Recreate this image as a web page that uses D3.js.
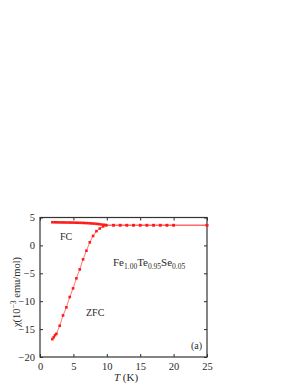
<!DOCTYPE html>
<html><head><meta charset="utf-8">
<script src="https://cdn.jsdelivr.net/npm/d3@7"></script>
<style>body{margin:0;background:#fff}svg{display:block}
svg text{font-family:"Liberation Serif","DejaVu Serif","Times New Roman",serif;}</style>
</head><body><svg id="c" width="300" height="388"></svg>
<script>
const xTicks = [0, 5, 10, 15, 20, 25];
const yTicks = [5, 0, -5, -10, -15, -20];
const fcT = [1.85,2.2,2.55,2.9,3.25,3.6,3.95,4.3,4.65,5.0,5.35,5.7,6.05,6.4,6.75,7.1,7.45,7.8,8.15,8.5,8.85,9.2,9.55,9.9,11,12,13,14,15,16,17,18,19,20,25];
const fcChi = [4.15,4.14,4.13,4.12,4.12,4.11,4.10,4.10,4.09,4.08,4.07,4.06,4.05,4.03,4.01,3.99,3.96,3.93,3.90,3.86,3.81,3.75,3.70,3.65,3.62,3.62,3.62,3.62,3.62,3.62,3.62,3.62,3.62,3.62,3.62];
const zfcT = [1.85,2.05,2.25,2.45,2.95,3.45,3.95,4.45,4.95,5.45,5.95,6.45,6.95,7.45,7.95,8.45,8.95,9.45,9.9];
const zfcChi = [-16.8,-16.45,-16.1,-15.85,-14.4,-12.55,-11.1,-9.25,-7.7,-5.9,-4.3,-2.5,-0.95,0.55,1.7,2.55,3.03,3.4,3.6];
const labels = {fc: "FC", zfc: "ZFC", panel: "(a)"};

const svg = d3.select("#c");
const L = 40, R = 207, T = 217.5, B = 357;
const x = d3.scaleLinear().domain([0, 25]).range([L, R]);
const y = d3.scaleLinear().domain([-20, 5]).range([B, T]);
const red = "#ff1a1a";
const ink = "#2a2a2a";

const xb = svg.append("g").attr("transform", `translate(0,${B})`)
  .call(d3.axisBottom(x).tickValues(xTicks).tickSizeInner(-3).tickSizeOuter(0).tickPadding(6));
const xt = svg.append("g").attr("transform", `translate(0,${T})`)
  .call(d3.axisTop(x).tickValues(xTicks).tickSizeInner(-3).tickSizeOuter(0).tickFormat(""));
const yl = svg.append("g").attr("transform", `translate(${L},0)`)
  .call(d3.axisLeft(y).tickValues(yTicks).tickSizeInner(-3).tickSizeOuter(0).tickPadding(5));
const yr = svg.append("g").attr("transform", `translate(${R},0)`)
  .call(d3.axisRight(y).tickValues(yTicks).tickSizeInner(-3).tickSizeOuter(0).tickFormat(""));
[xb, xt, yl, yr].forEach(g => {
  g.attr("font-family", null);
  g.select(".domain").remove();
  g.selectAll("line").attr("stroke", ink).attr("stroke-width", 1);
  g.selectAll("text").attr("font-size", 10.5).attr("fill", ink);
});
svg.append("rect").attr("x", L).attr("y", T).attr("width", R - L).attr("height", B - T)
  .attr("fill", "none").attr("stroke", "#333").attr("stroke-width", 1.2);

const line = d3.line().x(d => x(d[0])).y(d => y(d[1]));
const fc = fcT.map((t, i) => [t, fcChi[i]]);
const zfc = zfcT.map((t, i) => [t, zfcChi[i]]).concat(fc.slice(24));
[fc, zfc].forEach(data => {
  svg.append("path").datum(data).attr("d", line).attr("fill", "none")
    .attr("stroke", red).attr("stroke-opacity", 0.6).attr("stroke-width", 1);
  svg.append("g").selectAll("rect").data(data).join("rect")
    .attr("x", d => x(d[0]) - 1.3).attr("y", d => y(d[1]) - 1.3)
    .attr("width", 2.6).attr("height", 2.6).attr("fill", red);
});

const txt = (s, xx, yy, size, anchor) => svg.append("text").attr("x", xx).attr("y", yy)
  .attr("font-size", size).attr("fill", ink)
  .attr("text-anchor", anchor || "start").text(s);
txt(labels.fc, 60, 240, 10);
txt(labels.zfc, 86, 316, 10);
txt(labels.panel, 191, 349, 10);

const f = svg.append("text").attr("x", 113).attr("y", 266)
  .attr("font-size", 11).attr("fill", ink);
[["Fe", 0], ["1.00", 1], ["Te", 0], ["0.95", 1], ["Se", 0], ["0.05", 1]].forEach(([s, sub], i) => {
  const ts = f.append("tspan").text(s);
  if (sub) ts.attr("font-size", 7.5).attr("dy", 2.5);
  else if (i > 0) ts.attr("dy", -2.5);
});

const xl = svg.append("text").attr("x", 126).attr("y", 381).attr("text-anchor", "middle")
  .attr("font-size", 11).attr("fill", ink);
xl.append("tspan").attr("font-style", "italic").text("T");
xl.append("tspan").text(" (K)");

const ylab = svg.append("text").attr("transform", "translate(20,292) rotate(-90)")
  .attr("text-anchor", "middle").attr("font-size", 10.5).attr("fill", ink);
ylab.append("tspan").text("χ(10");
ylab.append("tspan").attr("font-size", 7.5).attr("dy", -4).text("−3");
ylab.append("tspan").attr("dy", 4).text(" emu/mol)");
</script></body></html>
